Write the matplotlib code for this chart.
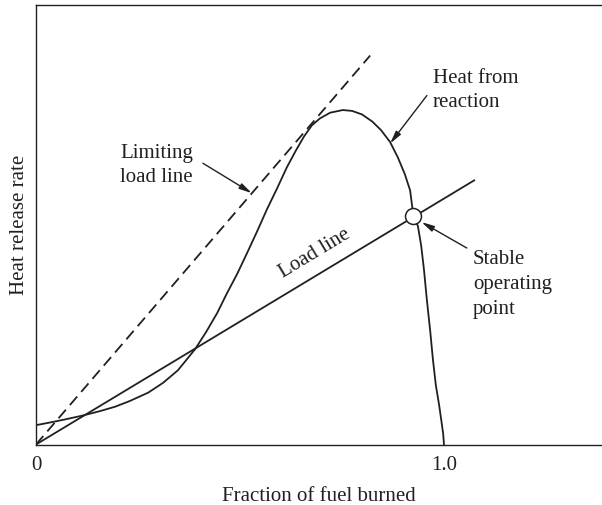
import numpy as np
import matplotlib.pyplot as plt

# Curva "heat from reaction"
frac_reaccion = [0.000, 0.034, 0.071, 0.115, 0.157, 0.194, 0.230, 0.275, 0.311, 0.348,
                 0.390, 0.417, 0.444, 0.468, 0.493, 0.517, 0.542, 0.566, 0.591, 0.615,
                 0.637, 0.657, 0.676, 0.696, 0.721, 0.752, 0.775, 0.799, 0.824, 0.846,
                 0.868, 0.887, 0.904, 0.917, 0.925, 0.936, 0.944, 0.951, 0.958, 0.966,
                 0.973, 0.980, 0.988, 0.994, 0.998, 1.000]
calor_reaccion = [0.044, 0.050, 0.057, 0.066, 0.076, 0.086, 0.099, 0.118, 0.140, 0.169,
                  0.217, 0.256, 0.299, 0.344, 0.388, 0.435, 0.485, 0.535, 0.583, 0.631,
                  0.669, 0.701, 0.726, 0.742, 0.755, 0.761, 0.759, 0.751, 0.735, 0.715,
                  0.688, 0.653, 0.615, 0.578, 0.520, 0.497, 0.453, 0.397, 0.329, 0.260,
                  0.192, 0.135, 0.090, 0.051, 0.024, 0.000]

# Recta de carga y recta de carga limite
frac_carga = [0.0, 1.074]
calor_carga = [0.0, 0.601]
frac_limite = [0.0, 0.819]
calor_limite = [0.0, 0.885]

# Punto de operacion estable
punto_x = [0.925]
punto_y = [0.519]

plt.rcParams['font.family'] = ['Liberation Serif', 'DejaVu Serif']

fig = plt.figure(figsize=(6.02, 5.05), dpi=100)
ax = fig.add_axes([36 / 602, 1 - 444.5 / 505, 1 - 36 / 602, 439.5 / 505])

color = '#231f20'
ax.plot(frac_reaccion, calor_reaccion, color=color, lw=1.3,
        solid_joinstyle='round', solid_capstyle='round')
ax.plot(frac_carga, calor_carga, color=color, lw=1.3)
ax.plot(frac_limite, calor_limite, color=color, lw=1.3, dashes=(6.2, 3.4))
ax.plot(punto_x, punto_y, 'o', ms=11.5, mfc='white', mec=color, mew=1.1, zorder=5)

ax.set_xlim(0, 566 / 408)
ax.set_ylim(0, 1)

for lado in ['left', 'bottom', 'top']:
    ax.spines[lado].set_linewidth(1.0)
    ax.spines[lado].set_color(color)
ax.spines['right'].set_visible(False)

ax.set_xticks([0, 1.0])
ax.set_xticklabels(['0', '1.0'])
ax.set_yticks([])
ax.tick_params(axis='x', length=0, pad=8, labelsize=15, colors=color)

ax.set_xlabel('Fraction of fuel burned', fontsize=15, color=color, labelpad=9)
ax.set_ylabel('Heat release rate', fontsize=15, color=color, labelpad=5)

fs = 15
flecha = dict(arrowstyle='-|>,head_length=0.75,head_width=0.18', color=color, lw=1.0,
              shrinkA=0, shrinkB=0)

# va='baseline' en texto de varias lineas -> linea de base de la ultima linea
ax.text(0.973, 0.767, 'Heat from\nreaction', fontsize=fs, color=color,
        ha='left', va='baseline', linespacing=1.4)
ax.annotate('', xy=(0.868, 0.685), xytext=(0.958, 0.794), arrowprops=flecha)

ax.text(0.207, 0.597, 'Limiting\nload line', fontsize=fs, color=color,
        ha='left', va='baseline', linespacing=1.4)
ax.annotate('', xy=(0.529, 0.572), xytext=(0.409, 0.640), arrowprops=flecha)

ax.text(1.071, 0.298, 'Stable\noperating\npoint', fontsize=fs, color=color,
        ha='left', va='baseline', linespacing=1.4)
ax.annotate('', xy=(0.945, 0.506), xytext=(1.056, 0.447), arrowprops=flecha)

ax.text(0.688, 0.425, 'Load line', fontsize=fs, color=color, rotation=31.1,
        rotation_mode='anchor', ha='center', va='baseline')

fig.savefig('out.png', dpi=100)
